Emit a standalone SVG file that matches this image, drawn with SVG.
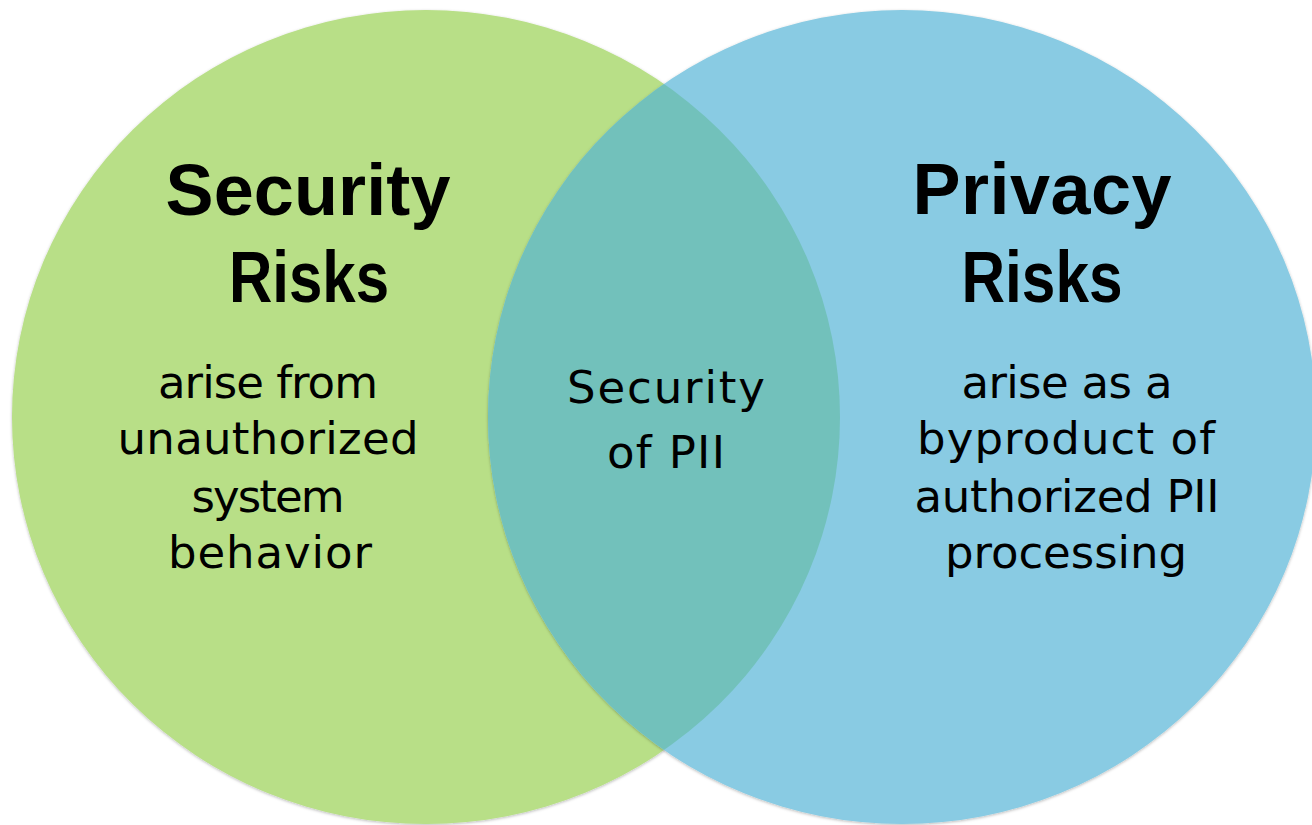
<svg xmlns="http://www.w3.org/2000/svg" width="1312" height="825" viewBox="0 0 1312 825">
  <style>
    .title { font-family: "Liberation Sans", Arial, sans-serif; font-weight: bold; font-size: 72px; fill: #000; text-anchor: middle; }
    .body { font-family: "DejaVu Sans", "Liberation Sans", sans-serif; font-size: 45px; fill: #000; text-anchor: middle; }
  </style>
  <defs>
    <filter id="shadow" x="-5%" y="-5%" width="110%" height="110%">
      <feDropShadow dx="0" dy="1" stdDeviation="1.5" flood-color="#000" flood-opacity="0.28"/>
    </filter>
    <clipPath id="clipGreen">
      <ellipse cx="426" cy="417" rx="414" ry="407"/>
    </clipPath>
  </defs>
  <rect x="0" y="0" width="1312" height="825" fill="#ffffff"/>

  <g id="security-risks">
    <ellipse cx="426" cy="417" rx="414" ry="407" fill="#B8DF87" filter="url(#shadow)"/>
  </g>
  <g id="privacy-risks">
    <ellipse cx="902" cy="417" rx="414" ry="407" fill="#89CBE3" filter="url(#shadow)"/>
  </g>
  <g id="overlap">
    <ellipse cx="902" cy="417" rx="414" ry="407" fill="#72C1BB" clip-path="url(#clipGreen)"/>
  </g>

  <g id="security-risks-text">
    <text class="title" x="308" y="215" textLength="285">Security</text>
    <text class="title" x="309" y="302" textLength="160" lengthAdjust="spacingAndGlyphs">Risks</text>
    <text class="body" x="268" y="398" textLength="220">arise from</text>
    <text class="body" x="268" y="454" textLength="301">unauthorized</text>
    <text class="body" x="268" y="512" textLength="153">system</text>
    <text class="body" x="270" y="568" textLength="204">behavior</text>
  </g>
  <g id="privacy-risks-text">
    <text class="title" x="1042" y="214" textLength="259">Privacy</text>
    <text class="title" x="1042" y="302" textLength="161" lengthAdjust="spacingAndGlyphs">Risks</text>
    <text class="body" x="1067" y="398" textLength="211">arise as a</text>
    <text class="body" x="1066" y="454" textLength="298">byproduct of</text>
    <text class="body" x="1067" y="512" textLength="305">authorized PII</text>
    <text class="body" x="1066" y="568" textLength="242">processing</text>
  </g>
  <g id="overlap-text">
    <text class="body" x="666" y="403" textLength="198">Security</text>
    <text class="body" x="666" y="468" textLength="118">of PII</text>
  </g>
</svg>
